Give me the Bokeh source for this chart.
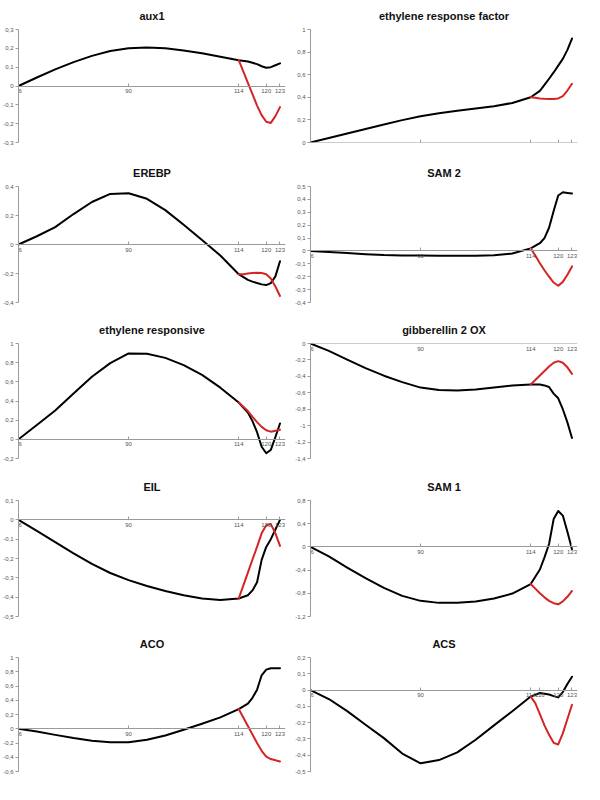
from bokeh.plotting import figure
from bokeh.layouts import gridplot
from bokeh.models import FixedTicker, Range1d, CustomJSTickFormatter
from bokeh.embed import file_html
from bokeh.resources import INLINE

# ---------------- data ----------------
X_BLACK = [66, 70, 74, 78, 82, 86, 90, 94, 98, 102, 106, 110, 114, 116, 117, 118, 119, 120, 121, 122, 123]
X_RED = [114, 115, 116, 117, 118, 119, 120, 121, 122, 123]
X_TICKS = [66, 90, 114, 120, 123]
X_TICKS_ACS = [66, 90, 114, 116, 120, 123]

titles = ["aux1", "ethylene response factor", "EREBP", "SAM 2", "ethylene responsive",
          "gibberellin 2 OX", "EIL", "SAM 1", "ACO", "ACS"]

aux1_black = [0, 0.045, 0.088, 0.127, 0.16, 0.186, 0.2, 0.205, 0.2, 0.189, 0.174, 0.155, 0.137,
              0.13, 0.123, 0.116, 0.105, 0.097, 0.1, 0.11, 0.12]
aux1_red = [0.137, 0.077, 0.017, -0.043, -0.104, -0.155, -0.19, -0.196, -0.16, -0.112]
aux1_yticks = [-0.3, -0.2, -0.1, 0, 0.1, 0.2, 0.3]

erf_black = [0, 0.04, 0.08, 0.12, 0.16, 0.198, 0.232, 0.258, 0.28, 0.3, 0.32, 0.35, 0.40,
             0.457, 0.51, 0.564, 0.62, 0.68, 0.74, 0.82, 0.92]
erf_red = [0.40, 0.395, 0.39, 0.387, 0.385, 0.385, 0.39, 0.41, 0.46, 0.52]
erf_yticks = [0, 0.2, 0.4, 0.6, 0.8, 1]

erebp_black = [0, 0.057, 0.12, 0.21, 0.293, 0.349, 0.353, 0.315, 0.237, 0.136, 0.031, -0.076, -0.205,
               -0.244, -0.256, -0.266, -0.275, -0.28, -0.266, -0.22, -0.116]
erebp_red = [-0.205, -0.205, -0.2, -0.197, -0.195, -0.197, -0.205, -0.235, -0.29, -0.355]
erebp_yticks = [-0.4, -0.2, 0, 0.2, 0.4]

sam2_black = [0, -0.008, -0.016, -0.025, -0.032, -0.035, -0.036, -0.037, -0.037, -0.037, -0.033, -0.02, 0.02,
              0.06, 0.1, 0.18, 0.31, 0.43, 0.455, 0.45, 0.445]
sam2_red = [0.02, -0.035, -0.095, -0.15, -0.2, -0.245, -0.27, -0.24, -0.185, -0.12]
sam2_yticks = [-0.4, -0.3, -0.2, -0.1, 0, 0.1, 0.2, 0.3, 0.4, 0.5]

er_black = [0, 0.15, 0.30, 0.478, 0.653, 0.795, 0.896, 0.892, 0.85, 0.774, 0.673, 0.539, 0.384,
            0.28, 0.19, 0.074, -0.077, -0.145, -0.11, 0.024, 0.165]
er_red = [0.384, 0.34, 0.295, 0.235, 0.18, 0.13, 0.095, 0.08, 0.09, 0.1]
er_yticks = [-0.2, 0, 0.2, 0.4, 0.6, 0.8, 1]

gib_black = [0, -0.09, -0.196, -0.30, -0.392, -0.47, -0.537, -0.565, -0.573, -0.56, -0.537, -0.51, -0.498,
             -0.5, -0.51, -0.53, -0.61, -0.667, -0.8, -0.96, -1.15]
gib_red = [-0.498, -0.445, -0.39, -0.335, -0.28, -0.235, -0.215, -0.235, -0.29, -0.37]
gib_yticks = [-1.4, -1.2, -1, -0.8, -0.6, -0.4, -0.2, 0]

eil_black = [0, -0.057, -0.115, -0.173, -0.228, -0.275, -0.312, -0.342, -0.368, -0.39, -0.407, -0.415, -0.407,
             -0.39, -0.365, -0.323, -0.207, -0.14, -0.1, -0.05, 0.0]
eil_red = [-0.407, -0.34, -0.273, -0.205, -0.14, -0.07, -0.028, -0.022, -0.07, -0.135]
eil_yticks = [-0.5, -0.4, -0.3, -0.2, -0.1, 0, 0.1]

sam1_black = [0, -0.164, -0.356, -0.54, -0.707, -0.844, -0.93, -0.965, -0.965, -0.94, -0.89, -0.805, -0.64,
              -0.39, -0.18, 0.05, 0.48, 0.62, 0.54, 0.26, -0.04]
sam1_red = [-0.64, -0.72, -0.8, -0.87, -0.93, -0.97, -0.99, -0.94, -0.86, -0.76]
sam1_yticks = [-1.2, -0.8, -0.4, 0, 0.4, 0.8]

aco_black = [0, -0.04, -0.086, -0.13, -0.167, -0.19, -0.19, -0.154, -0.095, -0.015, 0.07, 0.16, 0.276,
             0.353, 0.434, 0.548, 0.75, 0.83, 0.85, 0.85, 0.85]
aco_red = [0.276, 0.157, 0.04, -0.08, -0.2, -0.31, -0.39, -0.425, -0.443, -0.46]
aco_yticks = [-0.6, -0.4, -0.2, 0, 0.2, 0.4, 0.6, 0.8, 1]

acs_black = [0, -0.055, -0.129, -0.213, -0.295, -0.39, -0.45, -0.43, -0.383, -0.305, -0.217, -0.13, -0.04,
             -0.018, -0.022, -0.027, -0.037, -0.045, -0.012, 0.037, 0.082]
acs_red = [-0.04, -0.08, -0.148, -0.217, -0.275, -0.324, -0.334, -0.266, -0.178, -0.09]
acs_yticks = [-0.5, -0.4, -0.3, -0.2, -0.1, 0, 0.1, 0.2]

blacks = [aux1_black, erf_black, erebp_black, sam2_black, er_black, gib_black, eil_black, sam1_black, aco_black, acs_black]
reds = [aux1_red, erf_red, erebp_red, sam2_red, er_red, gib_red, eil_red, sam1_red, aco_red, acs_red]
yticks_all = [aux1_yticks, erf_yticks, erebp_yticks, sam2_yticks, er_yticks, gib_yticks, eil_yticks, sam1_yticks, aco_yticks, acs_yticks]
xticks_all = [X_TICKS] * 9 + [X_TICKS_ACS]

# ---------------- style ----------------
W = 292
HEIGHTS = [157, 157, 157, 157, 156]
BOTTOMS = [15, 12, 13, 12, 13]
FONT = "Liberation Sans"
AXIS_COLOR = "#9a9a9a"
LABEL_COLOR = "#555555"
RED = "#d42424"

fmt_code = "var s = (Math.round(tick*10)/10).toString(); return s.replace('.', ',');"


def make_panel(title, yt, xt, black, red, height, bottom):
    p = figure(width=W, height=height, output_backend="svg", toolbar_location=None,
               x_range=Range1d(66, 124.2), y_range=Range1d(min(yt), max(yt)),
               min_border_left=18, min_border_right=7, min_border_top=27, min_border_bottom=bottom,
               outline_line_color=None, background_fill_color="white", border_fill_color="white")
    p.grid.visible = False
    p.title.text = title
    p.title.align = "center"
    p.title.text_font = FONT
    p.title.text_font_size = "11px"
    p.title.text_font_style = "bold"
    p.title.text_color = "#111111"
    p.title.standoff = 15

    xa = p.xaxis[0]
    xa.fixed_location = 0
    xa.ticker = FixedTicker(ticks=xt)
    xa.axis_line_color = AXIS_COLOR
    xa.major_tick_line_color = AXIS_COLOR
    xa.major_tick_in = 3
    xa.major_tick_out = 0
    xa.minor_tick_line_color = None
    xa.major_label_text_font = FONT
    xa.major_label_text_font_size = "6px"
    xa.major_label_text_color = LABEL_COLOR
    xa.major_label_standoff = 3

    ya = p.yaxis[0]
    ya.ticker = FixedTicker(ticks=yt)
    ya.formatter = CustomJSTickFormatter(code=fmt_code)
    ya.axis_line_color = AXIS_COLOR
    ya.major_tick_line_color = AXIS_COLOR
    ya.major_tick_in = 0
    ya.major_tick_out = 3
    ya.minor_tick_line_color = None
    ya.major_label_text_font = FONT
    ya.major_label_text_font_size = "6px"
    ya.major_label_text_color = LABEL_COLOR
    ya.major_label_standoff = 2

    p.line(X_BLACK, black, line_color="black", line_width=2, line_join="round", line_cap="round")
    p.line(X_RED, red, line_color=RED, line_width=2, line_join="round", line_cap="round")
    return p


panels = []
for i, (t, yt, xt, b, r) in enumerate(zip(titles, yticks_all, xticks_all, blacks, reds)):
    panels.append(make_panel(t, yt, xt, b, r, HEIGHTS[i // 2], BOTTOMS[i // 2]))

grid = gridplot(panels, ncols=2, toolbar_location=None)

open("out.html", "w").write(file_html(grid, INLINE))
